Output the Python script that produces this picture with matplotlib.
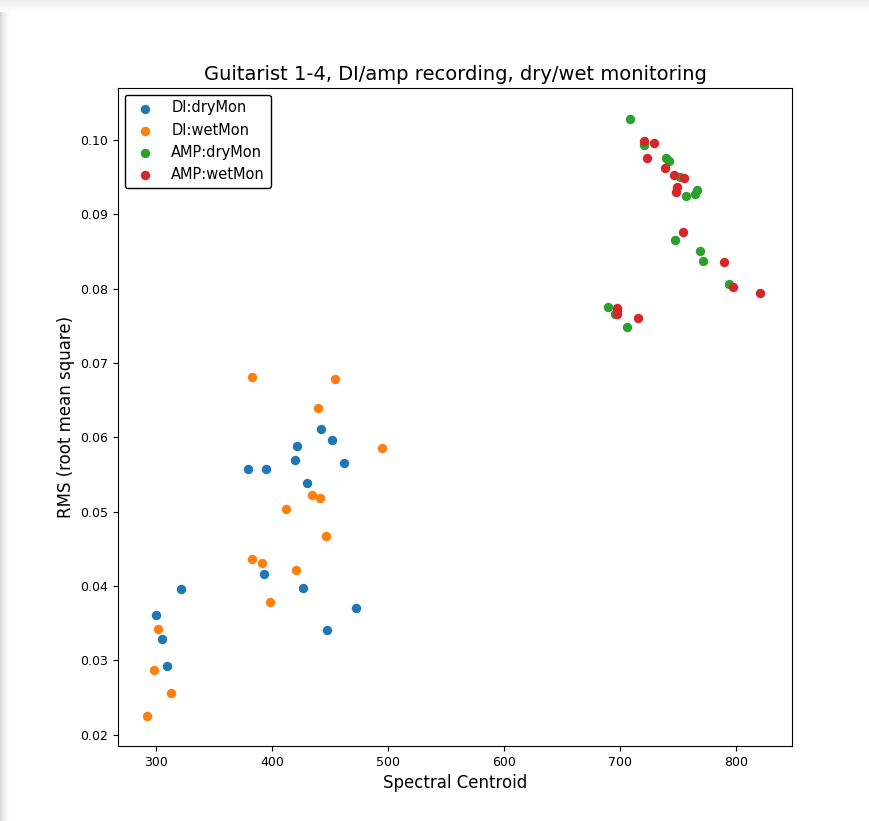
import matplotlib
matplotlib.use("Agg")
import matplotlib.pyplot as plt
from matplotlib.patches import Rectangle

# ---- data ----
di_dry_x = [379.3, 394.8, 441.9, 451.4, 421.6, 419.2, 462.1, 429.6, 393.1, 426.7,
            472.4, 447.4, 321.6, 300.0, 304.8, 309.5]
di_dry_y = [0.0557, 0.0557, 0.0612, 0.0597, 0.0589, 0.0570, 0.0565, 0.0539, 0.0417, 0.0398,
            0.0371, 0.0341, 0.0396, 0.0361, 0.0329, 0.0293]

di_wet_x = [382.2, 453.7, 439.1, 494.8, 434.5, 441.4, 412.1, 445.9, 382.4, 391.0,
            420.7, 398.3, 301.1, 298.3, 312.3, 291.9]
di_wet_y = [0.0681, 0.0678, 0.0640, 0.0586, 0.0523, 0.0519, 0.0504, 0.0467, 0.0436, 0.0431,
            0.0422, 0.0379, 0.0343, 0.0287, 0.0256, 0.0225]

amp_dry_x = [708.3, 720.1, 739.3, 742.2, 751.7, 756.6, 764.1, 765.8, 747.4, 768.6,
             770.9, 794.0, 689.7, 695.1, 706.0, 697.0]
amp_dry_y = [0.10287, 0.0993, 0.0976, 0.0972, 0.0950, 0.0925, 0.0927, 0.0933, 0.0865, 0.0851,
             0.0837, 0.0806, 0.0775, 0.0766, 0.0748, 0.0770]

amp_wet_x = [720.1, 728.7, 722.9, 738.2, 745.9, 754.6, 748.8, 748.3, 753.7, 789.1,
             796.8, 820.3, 697.4, 697.4, 697.4, 714.9]
amp_wet_y = [0.0999, 0.0996, 0.0976, 0.0962, 0.0953, 0.0949, 0.0937, 0.0930, 0.0876, 0.0836,
             0.0803, 0.0794, 0.0774, 0.0770, 0.0766, 0.0760]

series = [
    ("DI:dryMon", di_dry_x, di_dry_y, "#1f77b4"),
    ("DI:wetMon", di_wet_x, di_wet_y, "#ff7f0e"),
    ("AMP:dryMon", amp_dry_x, amp_dry_y, "#2ca02c"),
    ("AMP:wetMon", amp_wet_x, amp_wet_y, "#d62728"),
]

title = "Guitarist 1-4, DI/amp recording, dry/wet monitoring"
xlabel = "Spectral Centroid"
ylabel = "RMS (root mean square)"
xticks = [300, 400, 500, 600, 700, 800]
yticks = [0.02, 0.03, 0.04, 0.05, 0.06, 0.07, 0.08, 0.09, 0.10]

# ---- figure ----
W, H = 869, 821
fig = plt.figure(figsize=(W / 100, H / 100), dpi=100)
fig.patch.set_facecolor("white")

# screenshot-like drop shadow on left and top edges
shades = ["#d9d9d9", "#e0e0e0", "#e6e6e6", "#ebebeb", "#f0f0f0", "#f4f4f4", "#f7f7f7", "#fafafa", "#fcfcfc"]
for i, c in enumerate(shades):
    fig.patches.append(Rectangle((i / W, 0), 1 / W, 1 - 12 / H, transform=fig.transFigure,
                                 facecolor=c, edgecolor="none", zorder=-10))
top_shades = ["#eeeeee", "#f0f0f0", "#f2f2f2", "#f4f4f4", "#f6f6f6", "#f7f7f7", "#f9f9f9",
              "#fafafa", "#fbfbfb", "#fcfcfc", "#fdfdfd", "#fefefe"]
for i, c in enumerate(top_shades):
    fig.patches.append(Rectangle((0, 1 - (i + 1) / H), 1, 1 / H, transform=fig.transFigure,
                                 facecolor=c, edgecolor="none", zorder=-10))

ax = fig.add_axes([118 / W, 1 - 746 / H, (792 - 118) / W, (746 - 88) / H])

for label, xs, ys, col in series:
    ax.scatter(xs, ys, s=46, color=col, label=label, linewidths=0)

ax.set_xlim(267, 848)
ax.set_ylim(0.0185, 0.1070)
ax.set_xticks(xticks)
ax.set_yticks(yticks)
ax.set_yticklabels([f"{v:.2f}" for v in yticks])
ax.tick_params(labelsize=9)
ax.set_title(title, fontsize=14)
ax.set_xlabel(xlabel, fontsize=12)
ax.set_ylabel(ylabel, fontsize=12)

leg = ax.legend(loc="upper left", fontsize=10.5, framealpha=1, edgecolor="black",
                fancybox=True, borderaxespad=0.45)
leg.get_frame().set_linewidth(1.0)

fig.savefig("out.png", dpi=100)
